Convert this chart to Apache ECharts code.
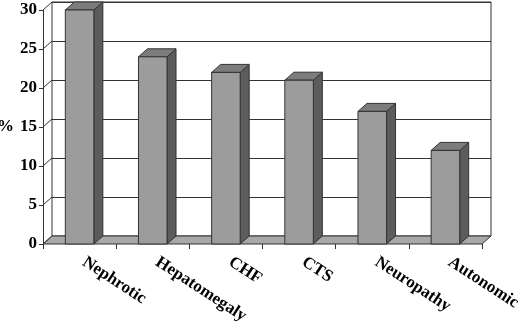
<!DOCTYPE html>
<html>
<head>
<meta charset="utf-8">
<script src="https://cdn.jsdelivr.net/npm/echarts@6/dist/echarts.min.js"></script>
<style>
html, body { margin: 0; padding: 0; background: #fff; }
#chart { width: 520px; height: 323px; }
</style>
</head>
<body>
<div id="chart"></div>
<script>
// data
const categories = ['Nephrotic', 'Hepatomegaly', 'CHF', 'CTS', 'Neuropathy', 'Autonomic']
const percents = [30, 24, 22, 21, 17, 12]
const yTicks = [0, 5, 10, 15, 20, 25, 30]

// 3D depth offset in px
const depthX = 9
const depthY = 8
const font = '"Liberation Serif", "Times New Roman", serif'
const edge = '#333'

const chart = echarts.init(document.getElementById('chart'))

// bar: front face + right side + top
function renderBar(params, api) {
  const top = api.coord([api.value(0), api.value(1)])
  const base = api.coord([api.value(0), 0])
  const w = api.size([1, 0])[0] * 0.39
  const l = top[0] - w / 2
  const r = top[0] + w / 2
  const t = top[1]
  const b = base[1]
  return {
    type: 'group',
    children: [
      {
        type: 'polygon',
        shape: { points: [[r, t], [r + depthX, t - depthY], [r + depthX, b - depthY], [r, b]] },
        style: { fill: '#5c5c5c', stroke: edge, lineWidth: 1 }
      },
      {
        type: 'polygon',
        shape: { points: [[l, t], [l + depthX, t - depthY], [r + depthX, t - depthY], [r, t]] },
        style: { fill: '#7c7c7c', stroke: edge, lineWidth: 1 }
      },
      {
        type: 'rect',
        shape: { x: l, y: t, width: w, height: b - t },
        style: { fill: '#9c9c9c', stroke: edge, lineWidth: 1 }
      }
    ]
  }
}

// floor under the bars
function renderFloor(params, api) {
  const cs = params.coordSys
  const y = cs.y + cs.height
  return {
    type: 'polygon',
    shape: {
      points: [[cs.x, y], [cs.x + depthX, y - depthY], [cs.x + cs.width + depthX, y - depthY], [cs.x + cs.width, y]]
    },
    style: { fill: '#a8a8a8', stroke: edge, lineWidth: 1 }
  }
}

// diagonal lines on the side wall
function renderSide(params, api) {
  const cs = params.coordSys
  const p = api.coord([0, api.value(0)])
  return {
    type: 'line',
    shape: { x1: cs.x, y1: p[1], x2: cs.x + depthX, y2: p[1] - depthY },
    style: { stroke: edge, lineWidth: 1 }
  }
}

const option = {
  animation: false,
  grid: [
    { left: 43, right: 38, top: 10, bottom: 79, outerBoundsMode: 'none' },
    {
      left: 43 + depthX, right: 38 - depthX, top: 10 - depthY, bottom: 79 + depthY,
      outerBoundsMode: 'none', show: true, borderColor: edge, borderWidth: 1
    }
  ],
  xAxis: [
    {
      type: 'category',
      data: categories,
      gridIndex: 0,
      axisLine: { show: false },
      axisTick: { show: true, length: 5, lineStyle: { color: edge } },
      axisLabel: {
        rotate: -33,
        margin: 14,
        padding: [0, 0, 0, 5],
        interval: 0,
        color: '#000',
        fontFamily: font,
        fontWeight: 'bold',
        fontSize: 17
      }
    },
    { type: 'category', data: categories, gridIndex: 1, show: false }
  ],
  yAxis: [
    {
      type: 'value',
      gridIndex: 0,
      min: 0,
      max: 30,
      interval: 5,
      name: '%',
      nameLocation: 'middle',
      nameRotate: 0,
      nameGap: 26,
      nameTextStyle: { color: '#000', fontFamily: font, fontWeight: 'bold', fontSize: 17 },
      axisLine: { show: true, lineStyle: { color: edge } },
      axisTick: { show: true, length: 4, lineStyle: { color: edge } },
      axisLabel: {
        margin: 6,
        color: '#000',
        fontFamily: font,
        fontWeight: 'bold',
        fontSize: 17,
        formatter: v => yTicks.includes(v) ? String(v) : ''
      },
      splitLine: { show: false }
    },
    {
      type: 'value',
      gridIndex: 1,
      min: 0,
      max: 30,
      interval: 5,
      axisLine: { show: false },
      axisTick: { show: false },
      axisLabel: { show: false },
      splitLine: { show: true, lineStyle: { color: edge, width: 1 } }
    }
  ],
  series: [
    {
      type: 'custom',
      xAxisIndex: 0,
      yAxisIndex: 0,
      renderItem: renderFloor,
      data: [0],
      z: 1,
      silent: true
    },
    {
      type: 'custom',
      xAxisIndex: 0,
      yAxisIndex: 0,
      renderItem: renderSide,
      data: yTicks.map(v => [v]),
      encode: { y: 0 },
      z: 1,
      silent: true
    },
    {
      type: 'custom',
      xAxisIndex: 0,
      yAxisIndex: 0,
      renderItem: renderBar,
      data: percents.map((v, i) => [i, v]),
      encode: { x: 0, y: 1 },
      z: 3
    }
  ]
}

chart.setOption(option)
</script>
</body>
</html>
